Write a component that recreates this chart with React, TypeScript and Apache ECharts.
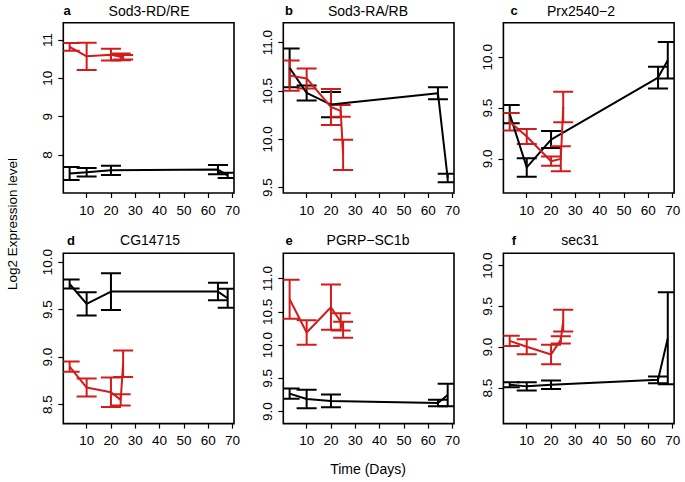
import React, { useEffect, useRef } from "react";
import * as echarts from "echarts";

// ---- data ----
const blackDays = [3, 10, 20, 64, 68];
const redDays = [3, 10, 20, 24, 25];
const xTicks = [10, 20, 30, 40, 50, 60, 70];

const panelLetters = ["a", "b", "c", "d", "e", "f"];
const panelTitles = ["Sod3-RD/RE", "Sod3-RA/RB", "Prx2540\u22122", "CG14715", "PGRP\u2212SC1b", "sec31"];

const yTicksA = [8, 9, 10, 11];
const yTicksB = [9.5, 10.0, 10.5, 11.0];
const yTicksC = [9.0, 9.5, 10.0];
const yTicksD = [8.5, 9.0, 9.5, 10.0];
const yTicksE = [9.0, 9.5, 10.0, 10.5, 11.0];
const yTicksF = [8.5, 9.0, 9.5, 10.0];

const yRangeA = [7.01, 11.45];
const yRangeB = [9.445, 11.207];
const yRangeC = [8.664, 10.34];
const yRangeD = [8.3, 10.093];
const yRangeE = [8.82, 11.38];
const yRangeF = [8.064, 10.15];

const blackMeanA = [7.52, 7.55, 7.6, 7.62, 7.47];
const blackErrA = [0.17, 0.11, 0.12, 0.12, 0.07];
const redMeanA = [10.82, 10.575, 10.615, 10.56, 10.55];
const redErrA = [0.1, 0.355, 0.153, 0.09, 0.06];

const blackMeanB = [10.74, 10.48, 10.36, 10.476, 9.6];
const blackErrB = [0.2, 0.078, 0.13, 0.062, 0.045];
const redMeanB = [10.66, 10.63, 10.335, 10.295, 9.84];
const redErrB = [0.156, 0.104, 0.186, 0.06, 0.157];

const blackMeanC = [9.44, 8.916, 9.19, 9.8, 9.97];
const blackErrC = [0.09, 0.091, 0.083, 0.107, 0.18];
const redMeanC = [9.365, 9.22, 8.977, 9.0, 9.51];
const redErrC = [0.086, 0.073, 0.046, 0.123, 0.15];

const blackMeanD = [9.77, 9.56, 9.69, 9.69, 9.62];
const blackErrD = [0.048, 0.123, 0.193, 0.092, 0.1];
const redMeanD = [8.9, 8.68, 8.63, 8.55, 8.93];
const redErrD = [0.053, 0.094, 0.155, 0.06, 0.14];

const blackMeanE = [9.27, 9.19, 9.16, 9.13, 9.25];
const blackErrE = [0.076, 0.139, 0.096, 0.048, 0.17];
const redMeanE = [10.69, 10.19, 10.57, 10.35, 10.23];
const redErrE = [0.294, 0.183, 0.34, 0.13, 0.12];

const blackMeanF = [8.54, 8.52, 8.54, 8.6, 9.11];
const blackErrF = [0.031, 0.052, 0.053, 0.041, 0.563];
const redMeanF = [9.077, 9.005, 8.91, 9.09, 9.325];
const redErrF = [0.062, 0.093, 0.12, 0.045, 0.134];

const panels = [
  { yTicks: yTicksA, yRange: yRangeA, bm: blackMeanA, be: blackErrA, rm: redMeanA, re: redErrA, dec: 0 },
  { yTicks: yTicksB, yRange: yRangeB, bm: blackMeanB, be: blackErrB, rm: redMeanB, re: redErrB, dec: 1 },
  { yTicks: yTicksC, yRange: yRangeC, bm: blackMeanC, be: blackErrC, rm: redMeanC, re: redErrC, dec: 1 },
  { yTicks: yTicksD, yRange: yRangeD, bm: blackMeanD, be: blackErrD, rm: redMeanD, re: redErrD, dec: 1 },
  { yTicks: yTicksE, yRange: yRangeE, bm: blackMeanE, be: blackErrE, rm: redMeanE, re: redErrE, dec: 1 },
  { yTicks: yTicksF, yRange: yRangeF, bm: blackMeanF, be: blackErrF, rm: redMeanF, re: redErrF, dec: 1 },
];

// ---- layout ----
const gridLefts = [63.3, 283.3, 503.4];
const gridTops = [22.7, 253.3];
const gridW = 170.7;
const gridH = 170.3;
const letterX = [67, 289, 514, 71, 289, 514];
const titleX = [149, 368, 581, 150, 368, 580];
const titleY = [10.5, 240];

const RED = "#d21c1c";
const FONT = "'Liberation Sans', Arial, Helvetica, sans-serif";

function errRender(color: string) {
  return (params: any, api: any) => {
    const x = api.value(0);
    const lo = api.value(1);
    const hi = api.value(2);
    const pLo = api.coord([x, lo]);
    const pHi = api.coord([x, hi]);
    const cs = params.coordSys;
    const left = cs.x;
    const right = cs.x + cs.width;
    const cx = (v: number) => Math.max(left, Math.min(right, v));
    const hw = 10;
    const st = { stroke: color, lineWidth: 2 };
    return {
      type: "group",
      children: [
        { type: "line", shape: { x1: pLo[0], y1: pLo[1], x2: pHi[0], y2: pHi[1] }, style: st },
        { type: "line", shape: { x1: cx(pLo[0] - hw), y1: pLo[1], x2: cx(pLo[0] + hw), y2: pLo[1] }, style: st },
        { type: "line", shape: { x1: cx(pHi[0] - hw), y1: pHi[1], x2: cx(pHi[0] + hw), y2: pHi[1] }, style: st },
      ],
    };
  };
}

export default function App() {
  const ref = useRef<HTMLDivElement>(null);
  useEffect(() => {
    if (!ref.current) return;
    const chart = echarts.init(ref.current, null, { renderer: "svg" });
    const grids: any[] = [];
    const xAxes: any[] = [];
    const yAxes: any[] = [];
    const series: any[] = [];
    const graphics: any[] = [];

    panels.forEach((p, i) => {
      const col = i % 3;
      const row = Math.floor(i / 3);
      grids.push({
        left: gridLefts[col],
        top: gridTops[row],
        width: gridW,
        height: gridH,
        show: true,
        borderColor: "#000",
        borderWidth: 1.6,
        backgroundColor: "transparent",
        containLabel: false,
      });
      xAxes.push({
        type: "value",
        gridIndex: i,
        min: 0.4,
        max: 70.6,
        axisLine: { show: false },
        splitLine: { show: false },
        axisTick: { show: true, customValues: xTicks, length: 5, lineStyle: { color: "#000", width: 1.2 } },
        axisLabel: { customValues: xTicks, color: "#000", fontSize: 13.5, margin: 10, fontFamily: FONT },
      });
      yAxes.push({
        type: "value",
        gridIndex: i,
        min: p.yRange[0],
        max: p.yRange[1],
        axisLine: { show: false },
        splitLine: { show: false },
        axisTick: { show: true, customValues: p.yTicks, length: 5, lineStyle: { color: "#000", width: 1.2 } },
        axisLabel: {
          customValues: p.yTicks,
          color: "#000",
          fontSize: 13.5,
          margin: 9,
          rotate: 90,
          fontFamily: FONT,
          formatter: (v: number) => v.toFixed(p.dec),
        },
      });
      const blackErr = blackDays.map((d, k) => [d, p.bm[k] - p.be[k], p.bm[k] + p.be[k]]);
      const redErr = redDays.map((d, k) => [d, p.rm[k] - p.re[k], p.rm[k] + p.re[k]]);
      series.push({
        type: "custom",
        xAxisIndex: i,
        yAxisIndex: i,
        renderItem: errRender("#000"),
        data: blackErr,
        encode: { x: 0, y: [1, 2] },
        clip: true,
        silent: true,
      });
      series.push({
        type: "line",
        xAxisIndex: i,
        yAxisIndex: i,
        data: blackDays.map((d, k) => [d, p.bm[k]]),
        showSymbol: false,
        symbol: "none",
        lineStyle: { color: "#000", width: 2 },
        clip: true,
        silent: true,
      });
      series.push({
        type: "custom",
        xAxisIndex: i,
        yAxisIndex: i,
        renderItem: errRender(RED),
        data: redErr,
        encode: { x: 0, y: [1, 2] },
        clip: true,
        silent: true,
      });
      series.push({
        type: "line",
        xAxisIndex: i,
        yAxisIndex: i,
        data: redDays.map((d, k) => [d, p.rm[k]]),
        showSymbol: false,
        symbol: "none",
        lineStyle: { color: RED, width: 2 },
        clip: true,
        silent: true,
      });
      graphics.push({
        type: "text",
        x: letterX[i],
        y: titleY[row],
        style: { text: panelLetters[i], font: `bold 13px ${FONT}`, fill: "#000", textAlign: "center", textVerticalAlign: "middle" },
      });
      graphics.push({
        type: "text",
        x: titleX[i],
        y: titleY[row],
        style: { text: panelTitles[i], font: `14px ${FONT}`, fill: "#000", textAlign: "center", textVerticalAlign: "middle" },
      });
    });

    graphics.push({
      type: "text",
      x: 368,
      y: 469,
      style: { text: "Time (Days)", font: `14px ${FONT}`, fill: "#000", textAlign: "center", textVerticalAlign: "middle" },
    });
    graphics.push({
      type: "text",
      x: 12,
      y: 224,
      rotation: Math.PI / 2,
      style: { text: "Log2 Expression level", font: `13.5px ${FONT}`, fill: "#000", textAlign: "center", textVerticalAlign: "middle" },
    });

    chart.setOption({
      animation: false,
      backgroundColor: "#fff",
      grid: grids,
      xAxis: xAxes,
      yAxis: yAxes,
      series,
      graphic: graphics,
    });
    return () => chart.dispose();
  }, []);
  return <div ref={ref} style={{ position: "fixed", left: 0, top: 0, width: 685, height: 482 }} />;
}
